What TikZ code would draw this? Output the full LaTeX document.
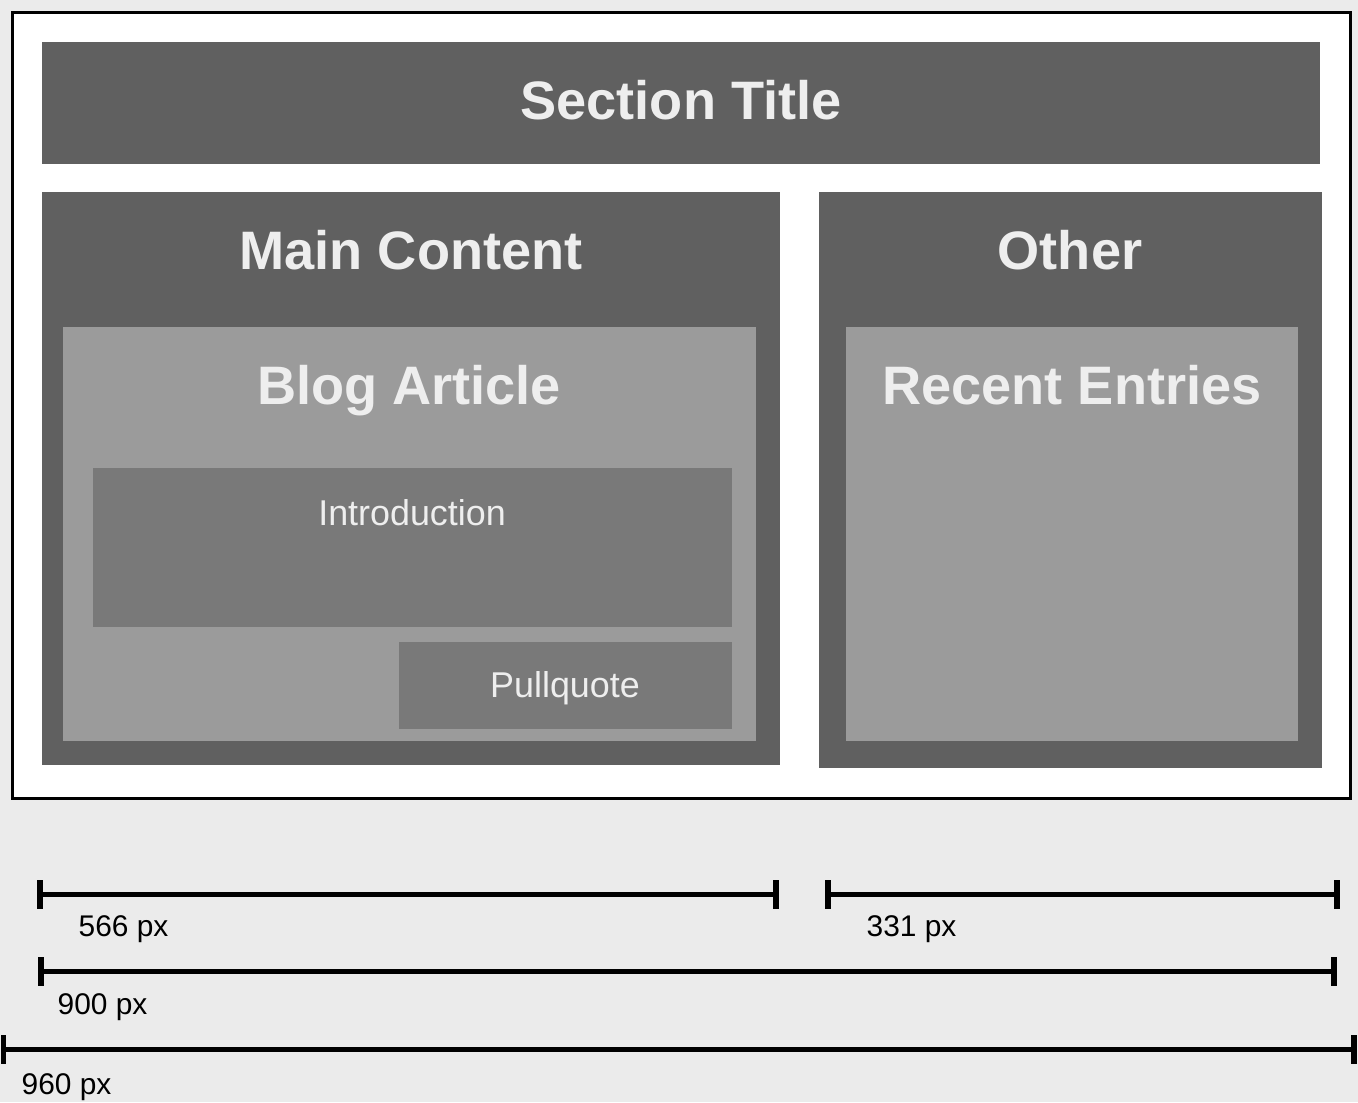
\documentclass[tikz,border=0pt]{standalone}
\usepackage{fontspec}
\setmainfont{Liberation Sans}
\usetikzlibrary{fit}
\definecolor{pagebg}{HTML}{EBEBEB}
\definecolor{darkbox}{HTML}{606060}
\definecolor{midbox}{HTML}{9B9B9B}
\definecolor{innerbox}{HTML}{797979}
\definecolor{labeltext}{HTML}{EEEEEE}
\begin{document}
\begin{tikzpicture}[x=0.01cm,y=-0.01cm,
  region/.style={fill=#1,draw=none,inner sep=0pt,outer sep=0pt},
  headline/.style={anchor=base,text=labeltext,inner sep=0pt,font=\fontsize{15.4}{18}\selectfont\bfseries},
  sublabel/.style={anchor=base,text=labeltext,inner sep=0pt,font=\fontsize{10.2}{12}\selectfont},
  dimline/.style={line width=1.42pt,line cap=butt},
  dimtick/.style={line width=1.7pt,line cap=butt},
  dimtext/.style={anchor=base west,inner sep=0pt,font=\fontsize{8.5}{10}\selectfont}]
  % canvas
  \fill[pagebg] (0,0) rectangle (1358,1102);
  \useasboundingbox (0,0) rectangle (1358,1102);
  % page frame
  \node[draw=black,fill=white,line width=0.85pt,inner sep=0pt,fit={(12.5,12.5)(1350,798)}] (page) {};
  % layout regions
  \node[region=darkbox,fit={(42,42)(1320,164)}] (section) {};
  \node[region=darkbox,fit={(42,192)(780,765)}] (main) {};
  \node[region=darkbox,fit={(819,192)(1322,768)}] (other) {};
  \node[region=midbox,fit={(63,327)(756,741)}] (blog) {};
  \node[region=midbox,fit={(846,327)(1298,741)}] (recent) {};
  \node[region=innerbox,fit={(93,468)(732,627)}] (intro) {};
  \node[region=innerbox,fit={(399,642)(732,729)}] (pull) {};
  % region titles
  \node[headline] (sectiontxt) at (681,119) {Section Title};
  \node[headline] (maintxt) at (411,269) {Main Content};
  \node[headline] (othertxt) at (1070,269) {Other};
  \node[headline] (blogtxt) at (409,404) {Blog Article};
  \node[headline] (recenttxt) at (1072,404) {Recent Entries};
  \node[sublabel] (introtxt) at (412,525) {Introduction};
  \node[sublabel] (pulltxt) at (565,697) {Pullquote};
  % width measurements
  \coordinate (m1a) at (40,894.5);  \coordinate (m1b) at (776,894.5);
  \coordinate (m2a) at (828,894.5); \coordinate (m2b) at (1337,894.5);
  \coordinate (m3a) at (41,971.5);  \coordinate (m3b) at (1333.5,971.5);
  \coordinate (m4a) at (3.5,1049.5);\coordinate (m4b) at (1353.5,1049.5);
  \foreach \a/\b in {m1a/m1b,m2a/m2b,m3a/m3b,m4a/m4b}{
    \draw[dimline] (\a) -- (\b);
    \draw[dimtick] ([yshift=0.145cm]\a) -- ([yshift=-0.145cm]\a);
    \draw[dimtick] ([yshift=0.145cm]\b) -- ([yshift=-0.145cm]\b);
  }
  \node[dimtext] (w1) at (78,936) {566 px};
  \node[dimtext] (w2) at (866,936) {331 px};
  \node[dimtext] (w3) at (57,1014) {900 px};
  \node[dimtext] (w4) at (21,1094) {960 px};
\end{tikzpicture}
\end{document}
